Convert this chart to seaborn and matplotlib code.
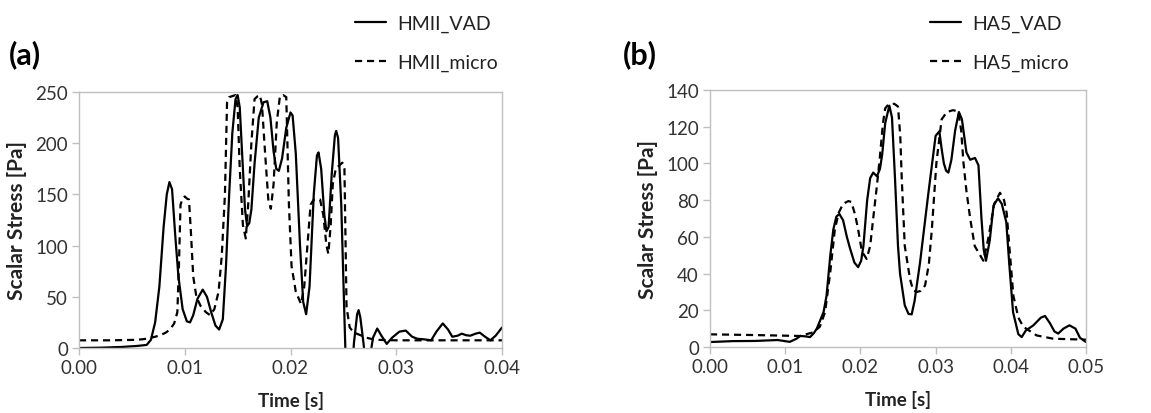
import matplotlib
matplotlib.use("Agg")
import matplotlib.pyplot as plt
import seaborn as sns
import pandas as pd

# ---------------- HMII pump ----------------
hmii_vad_t = [0.0000, 0.0020, 0.0040, 0.0055, 0.0064, 0.0068, 0.0072, 0.0076, 0.0080, 0.0083,
              0.00855, 0.0088, 0.0091, 0.0094, 0.0098, 0.0102, 0.0105, 0.0108, 0.0112, 0.0117,
              0.0121, 0.0125, 0.0129, 0.01325, 0.0136, 0.0139, 0.0142, 0.0145, 0.0148, 0.0150,
              0.0152, 0.01545, 0.0157, 0.0159, 0.0161, 0.0163, 0.0166, 0.0170, 0.01745, 0.0178,
              0.0181, 0.0184, 0.01865, 0.0189, 0.0192, 0.0196, 0.0200, 0.0202, 0.0205, 0.0209,
              0.0212, 0.02148, 0.0218, 0.0222, 0.0225, 0.02265, 0.0229, 0.0232, 0.0234, 0.0236,
              0.0239, 0.0242, 0.02432, 0.0245, 0.0248, 0.0251, 0.0253, 0.0257, 0.0260, 0.0263,
              0.02644, 0.0266, 0.0269, 0.0271, 0.0275, 0.0278, 0.0282, 0.0286, 0.0291, 0.0296,
              0.0303, 0.0309, 0.0315, 0.0320, 0.0326, 0.0333, 0.0338, 0.0344, 0.0349, 0.0353,
              0.0358, 0.0362, 0.0366, 0.0370, 0.0375, 0.0379, 0.0384, 0.0389, 0.0394, 0.0400]
hmii_vad = [0, 0.3, 1, 2, 3, 8, 25, 60, 118, 150,
            162, 155, 110, 70, 38, 26, 25, 32, 48, 57,
            50, 35, 22, 18, 28, 80, 150, 210, 243, 247,
            235, 185, 135, 119, 122, 135, 180, 225, 240, 241,
            225, 192, 175, 173, 185, 215, 230, 227, 190, 100,
            45, 33, 60, 150, 188, 191, 175, 130, 114, 118,
            170, 208, 212, 205, 140, 30, -40, -40, 5, 33,
            37, 30, 5, -15, -10, 10, 19, 12, 4, 10,
            16, 17, 11, 9, 8.5, 7.5, 16, 24, 18, 11,
            12, 14, 12.5, 12, 14, 15, 11, 7.5, 12, 20]

hmii_micro_t = [0.0000, 0.0030, 0.0055, 0.0064, 0.0072, 0.0077, 0.0082, 0.0086, 0.0090, 0.0093,
                0.00945, 0.0096, 0.0098, 0.0100, 0.0102, 0.0104, 0.0106, 0.0108, 0.0111, 0.0115,
                0.0120, 0.0124, 0.0128, 0.0132, 0.0135, 0.0138, 0.0140, 0.0142, 0.0145, 0.0148,
                0.0150, 0.0152, 0.0155, 0.01577, 0.0160, 0.0163, 0.0166, 0.0169, 0.0171, 0.0173,
                0.0176, 0.0179, 0.01814, 0.0184, 0.0187, 0.0190, 0.0193, 0.0196, 0.01985, 0.0201,
                0.0205, 0.0210, 0.0213, 0.0216, 0.0219, 0.0222, 0.0225, 0.0228, 0.0231, 0.0234,
                0.02358, 0.0238, 0.0240, 0.0243, 0.0246, 0.0249, 0.0251, 0.0253, 0.0256, 0.0260,
                0.0265, 0.0272, 0.0280, 0.0300, 0.0400]
hmii_micro = [7.5, 7.5, 8, 9, 11, 12.5, 15, 18, 24, 35,
              80, 140, 146, 148, 146, 145, 110, 70, 50, 41,
              35, 32, 38, 55, 90, 150, 240, 245, 246, 247,
              235, 175, 120, 107, 140, 200, 243, 246, 247, 238,
              190, 145, 136, 160, 220, 246, 247, 245, 140, 80,
              55, 43, 60, 100, 140, 145, 145, 145, 130, 100,
              92, 120, 160, 176, 178, 181, 175, 40, 20, 15,
              13, 10, 8, 7.5, 7.5]

# ---------------- HA5 pump ----------------
ha5_vad_t = [0.0000, 0.0030, 0.0060, 0.0090, 0.0106, 0.0115, 0.0120, 0.0127, 0.0133, 0.0138,
             0.0142, 0.0151, 0.0155, 0.0160, 0.0164, 0.0168, 0.0172, 0.0177, 0.0182, 0.0186,
             0.0192, 0.0197, 0.0201, 0.0204, 0.0209, 0.0213, 0.0217, 0.0222, 0.0226, 0.0229,
             0.0233, 0.02385, 0.0242, 0.0246, 0.0250, 0.02527, 0.0259, 0.0264, 0.02682, 0.0272,
             0.02793, 0.0290, 0.0300, 0.0305, 0.0308, 0.0311, 0.0314, 0.0317, 0.0321, 0.0326,
             0.0331, 0.0335, 0.0341, 0.0346, 0.03524, 0.0357, 0.0361, 0.0364, 0.0367, 0.0372,
             0.0377, 0.0383, 0.0388, 0.0394, 0.0398, 0.0403, 0.0410, 0.04145, 0.0420, 0.0430,
             0.0440, 0.04455, 0.0452, 0.0458, 0.0463, 0.0470, 0.0478, 0.0486, 0.0492, 0.0500]
ha5_vad = [2.7, 3.2, 3.3, 3.8, 2.8, 4.5, 6, 5.8, 5.4, 7.5,
           10, 19, 28, 50, 64, 71, 72.5, 69, 60, 54,
           46, 43.5, 47, 55, 80, 92, 95, 93, 97, 105,
           122, 131.5, 125, 92, 55, 40, 22.7, 18, 17.8, 25,
           46, 82.5, 115, 117.5, 108, 100, 96, 95, 102, 118,
           128, 124, 106, 102, 103, 99, 70, 53, 47, 58,
           77, 81, 78, 68, 45, 19, 7, 5.4, 9, 11.8,
           16, 16.9, 13, 8.5, 7.3, 10, 11.8, 10, 5, 2.7]

ha5_micro_t = [0.0000, 0.0060, 0.0120, 0.0137, 0.0146, 0.0153, 0.0160, 0.0166, 0.0171, 0.0177,
               0.0184, 0.0188, 0.0193, 0.0197, 0.0202, 0.02083, 0.0213, 0.0217, 0.0222, 0.0226,
               0.0230, 0.0233, 0.0237, 0.0245, 0.0250, 0.0253, 0.0255, 0.0259, 0.0266, 0.0270,
               0.02748, 0.0280, 0.0286, 0.0291, 0.0295, 0.0301, 0.0308, 0.0315, 0.0323, 0.0330,
               0.0334, 0.0337, 0.0341, 0.0346, 0.0352, 0.03635, 0.0370, 0.0378, 0.03856, 0.0391,
               0.03945, 0.0399, 0.04034, 0.0410, 0.04167, 0.04344, 0.04566, 0.0500]
ha5_micro = [6.9, 6.5, 6, 8, 11, 19, 41, 64, 73, 78,
             79.5, 79, 72, 64, 52, 48, 55, 70, 88, 104,
             122, 130, 132, 132.5, 131, 115, 91.6, 55, 37, 31,
             30, 30.5, 33.5, 45, 64, 100, 124, 128, 129, 128.4,
             118, 100.6, 85, 70, 55, 47, 59, 78, 84, 80,
             73, 50, 28, 16, 11, 6.3, 4.5, 4]

hmii_labels = ["HMII_VAD", "HMII_micro"]
ha5_labels = ["HA5_VAD", "HA5_micro"]
hmii_yticks = [0, 50, 100, 150, 200, 250]
ha5_yticks = [0, 20, 40, 60, 80, 100, 120, 140]
hmii_xticks = [0.00, 0.01, 0.02, 0.03, 0.04]
ha5_xticks = [0.00, 0.01, 0.02, 0.03, 0.04, 0.05]

sns.set_theme(style="white")
plt.rcParams["font.family"] = ["Lato", "DejaVu Sans"]

W, H = 1151, 414
fig = plt.figure(figsize=(W / 100, H / 100), dpi=100)

TICK_COLOR = "#333333"
SPINE_COLOR = "#bfbfbf"
LW = 1.6
DASH = (0, (3.2, 2.2))


def draw_panel(rect, vad_t, vad, mic_t, mic, labels, xticks, yticks, letter, letter_x, leg_x):
    ax = fig.add_axes(rect)
    df_vad = pd.DataFrame({"t": vad_t, "s": vad})
    df_mic = pd.DataFrame({"t": mic_t, "s": mic})
    sns.lineplot(data=df_vad, x="t", y="s", ax=ax, color="black", linewidth=LW,
                 estimator=None, sort=False, label=labels[0])
    sns.lineplot(data=df_mic, x="t", y="s", ax=ax, color="black", linewidth=LW,
                 estimator=None, sort=False, linestyle=DASH, label=labels[1])
    ax.set_xlim(xticks[0], xticks[-1])
    ax.set_ylim(yticks[0], yticks[-1])
    ax.set_xticks(xticks)
    ax.set_xticklabels([f"{v:.2f}" for v in xticks])
    ax.set_yticks(yticks)
    ax.set_yticklabels([str(v) for v in yticks])
    for sp in ax.spines.values():
        sp.set_color(SPINE_COLOR)
        sp.set_linewidth(1.0)
    ax.tick_params(axis="both", which="both", direction="out", length=5, width=1.0,
                   color=SPINE_COLOR, labelcolor=TICK_COLOR, labelsize=13.5, pad=3,
                   bottom=True, left=True)
    ax.set_xlabel("Time [s]", fontsize=13.5, fontweight="bold", color="#222222", labelpad=11)
    ax.set_ylabel("Scalar Stress [Pa]", fontsize=15, fontweight="bold", color="#222222",
                  labelpad=6)
    ax.grid(False)
    handles, labs = ax.get_legend_handles_labels()
    ax.legend(handles, labs, loc="upper left", bbox_to_anchor=(leg_x, 0.962),
              bbox_transform=fig.transFigure, frameon=False, fontsize=14,
              handlelength=1.6, handletextpad=0.55, labelspacing=1.1, borderpad=0.0,
              borderaxespad=0.0, labelcolor="#222222")
    fig.text(letter_x, 0.869, letter, fontsize=22, fontweight="bold", color="black",
             ha="left", va="center")
    return ax


draw_panel([79 / W, 1 - 349 / H, (502 - 79) / W, (349 - 93) / H],
           hmii_vad_t, hmii_vad, hmii_micro_t, hmii_micro, hmii_labels,
           hmii_xticks, hmii_yticks, "(a)", 9 / W, 355 / W)
draw_panel([710 / W, 1 - 348 / H, (1086 - 710) / W, (348 - 91) / H],
           ha5_vad_t, ha5_vad, ha5_micro_t, ha5_micro, ha5_labels,
           ha5_xticks, ha5_yticks, "(b)", 623 / W, 930 / W)

fig.savefig("out.png", dpi=100, facecolor="white")
